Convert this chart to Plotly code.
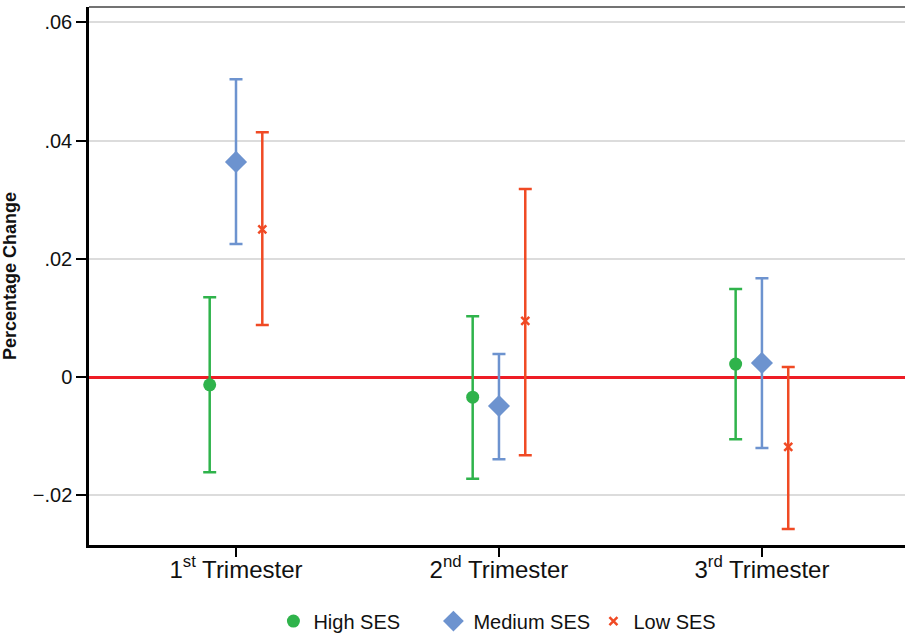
import plotly.graph_objects as go

categories = ["1<sup>st</sup> Trimester", "2<sup>nd</sup> Trimester", "3<sup>rd</sup> Trimester"]
series_names = ["High SES", "Medium SES", "Low SES"]

high_est = [-0.0013, -0.0034, 0.0022]
high_hi = [0.0135, 0.0103, 0.0149]
high_lo = [-0.0161, -0.0172, -0.0105]

med_est = [0.0364, -0.0049, 0.0024]
med_hi = [0.0504, 0.0039, 0.0167]
med_lo = [0.0225, -0.0139, -0.0120]

low_est = [0.0250, 0.0095, -0.0118]
low_hi = [0.0414, 0.0318, 0.0017]
low_lo = [0.0088, -0.0132, -0.0257]

ytick_vals = [-0.02, 0, 0.02, 0.04, 0.06]
ytick_text = ["\u2212.02", "0", ".02", ".04", ".06"]

colors = ["#2fb34b", "#6d93cf", "#f04a24"]
symbols = ["circle", "diamond", "x-thin-open"]
sizes = [13, 17, 8]
offsets = [-0.1, 0.0, 0.1]

fig = go.Figure()
data = [(high_est, high_hi, high_lo), (med_est, med_hi, med_lo), (low_est, low_hi, low_lo)]
for i, (est, hi, lo) in enumerate(data):
    xs = [j + offsets[i] for j in range(len(categories))]
    marker = dict(color=colors[i], size=sizes[i], symbol=symbols[i])
    if i == 2:
        marker = dict(color=colors[i], size=sizes[i], symbol="x-thin-open",
                      line=dict(color=colors[i], width=2.5))
    fig.add_trace(go.Scatter(
        x=xs, y=est, mode="markers", name=series_names[i],
        marker=marker,
        error_y=dict(type="data", symmetric=False,
                     array=[h - e for h, e in zip(hi, est)],
                     arrayminus=[e - l for e, l in zip(est, lo)],
                     color=colors[i], thickness=2.5, width=6.5),
    ))

fig.add_shape(type="line", xref="paper", yref="paper", x0=0, x1=1, y0=1, y1=1,
              line=dict(color="#444444", width=1.5))

fig.update_layout(
    width=905, height=635,
    margin=dict(l=89, r=0, t=7, b=90),
    paper_bgcolor="white", plot_bgcolor="white",
    font=dict(family="Liberation Sans, Arial, sans-serif", color="#111111"),
    showlegend=True,
    legend=dict(orientation="h", x=0.226, xanchor="left", yref="container", y=0.022, yanchor="middle",
                font=dict(size=20, color="#111111"), itemwidth=30, tracegroupgap=0,
                entrywidth=115, entrywidthmode="pixels"),
    xaxis=dict(range=[-0.559, 2.544], tickvals=[0, 1, 2], ticktext=categories,
               showgrid=False, zeroline=False, showline=True, linecolor="black", linewidth=2.5,
               ticks="outside", ticklen=9, tickwidth=1.5, tickcolor="black",
               ticklabelstandoff=-8,
               tickfont=dict(size=24, color="#111111")),
    yaxis=dict(range=[-0.0284, 0.0626], tickvals=ytick_vals, ticktext=ytick_text,
               showgrid=True, gridcolor="#dcdcdc", gridwidth=2,
               zeroline=True, zerolinecolor="#ee1c25", zerolinewidth=2.5,
               showline=True, linecolor="black", linewidth=2.5,
               ticks="outside", ticklen=10, tickwidth=1.5, tickcolor="black",
               tickfont=dict(size=20, color="#111111"),
               title=dict(text="<b>Percentage Change</b>", font=dict(size=18, color="#111111"), standoff=13)),
)

fig.write_html("out.html", config={"displayModeBar": False},
               post_script="document.body.style.margin='0';document.documentElement.style.overflow='hidden';document.body.style.overflow='hidden';")
